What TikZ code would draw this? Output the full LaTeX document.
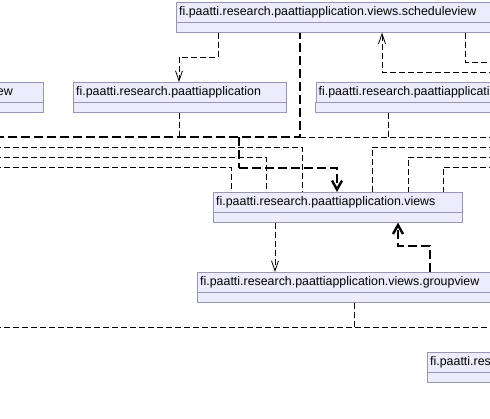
\documentclass[tikz,border=0pt]{standalone}
\usepackage{fontspec}
\setmainfont{Liberation Sans}
\usetikzlibrary{arrows.meta,fit}

\definecolor{pkgfill}{RGB}{236,236,252}
\definecolor{pkgline}{RGB}{150,150,182}

\tikzset{
	pkg/.style={draw=pkgline, fill=pkgfill, anchor=north west, text width=#1, align=left,
		minimum height=20pt, inner xsep=3pt, inner ysep=0pt, font=\fontsize{12.4}{14}\selectfont},
	pkgbody/.style={draw=pkgline, fill=pkgfill, inner sep=0pt},
	dep/.style={dash pattern=on 6pt off 3pt, line width=0.8pt},
	deparr/.style={dep, -{Straight Barb[length=10pt,width=7pt]}},
	cyc/.style={dash pattern=on 9pt off 4pt, line width=2.4pt},
	cycarr/.style={cyc, -{Straight Barb[length=9pt,width=10pt,line width=2.4pt]}},
}

\begin{document}
\begin{tikzpicture}[x=1pt, y=-1pt]
	\useasboundingbox (0,0) rectangle (490,419);
	\clip (0,0) rectangle (490,419);

	% packages
	\node[pkg=324pt] (schedule) at (176,2) {fi.paatti.research.paattiapplication.views.scheduleview};
	\node[pkg=290pt] (listv) at (-253,82) {fi.paatti.research.paattiapplication.views.listview};
	\node[pkg=207pt] (app) at (73,82) {fi.paatti.research.paattiapplication};
	\node[pkg=260pt] (model) at (315.5,82) {fi.paatti.research.paattiapplication.model};
	\node[pkg=243pt] (views) at (213,192) {fi.paatti.research.paattiapplication.views};
	\node[pkg=300pt] (group) at (197,272) {fi.paatti.research.paattiapplication.views.groupview};
	\node[pkg=260pt] (util) at (427,352) {fi.paatti.research.paattiapplication.util};

	\foreach \p in {schedule, listv, app, model, views, group, util}
		\node[pkgbody, fit={(\p.south west) ([yshift=-10pt]\p.south east)}] (\p-c) {};

	% free ends outside the picture
	\coordinate (wA) at (-5,137);
	\coordinate (wB) at (-5,147);
	\coordinate (wC) at (-5,157);
	\coordinate (wD) at (-5,167);
	\coordinate (wE) at (-5,327);
	\coordinate (eA) at (495,137);
	\coordinate (eB) at (495,147);
	\coordinate (eC) at (495,157);
	\coordinate (eD) at (495,167);
	\coordinate (eE) at (495,327);
	\coordinate (eF) at (495,62);
	\coordinate (eG) at (495,72);

	% upper part
	\draw[deparr] (218,0 |- schedule-c.south) -- (218,57) -- (179,57) -- (179,0 |- app.north);
	\draw[dep] (465,0 |- schedule-c.south) -- (465,62) -- (eF);
	\draw[deparr] (eG) -- (382,72) -- (382,0 |- schedule-c.south);
	\draw[dep] (179,0 |- app-c.south) -- (179,137);
	\draw[dep] (388,0 |- model-c.south) -- (388,137);
	\draw[dep] (eA) -- (300,137);

	\draw[cyc] (wA) -- (300,137) -- (300,0 |- schedule-c.south);
	\draw[cyc] (239,137) -- (239,168);
	\draw[cycarr] (239,168) -- (337,168) -- (337,0 |- views.north);

	% into views
	\draw[dep] (wB) -- (302,147) -- (302,0 |- views.north);
	\draw[dep] (wC) -- (266,157) -- (266,0 |- views.north);
	\draw[dep] (wD) -- (231,167) -- (231,0 |- views.north);
	\draw[dep] (eB) -- (372,147) -- (372,0 |- views.north);
	\draw[dep] (eC) -- (408,157) -- (408,0 |- views.north);
	\draw[dep] (eD) -- (443,167) -- (443,0 |- views.north);

	% lower part
	\draw[deparr] (275,0 |- views-c.south) -- (275,0 |- group.north);
	\draw[cycarr] (430,0 |- group.north) -- (430,246) -- (398,246) -- (398,0 |- views-c.south);
	\draw[dep] (354,0 |- group-c.south) -- (354,327);
	\draw[dep] (wE) -- (eE);
\end{tikzpicture}
\end{document}
